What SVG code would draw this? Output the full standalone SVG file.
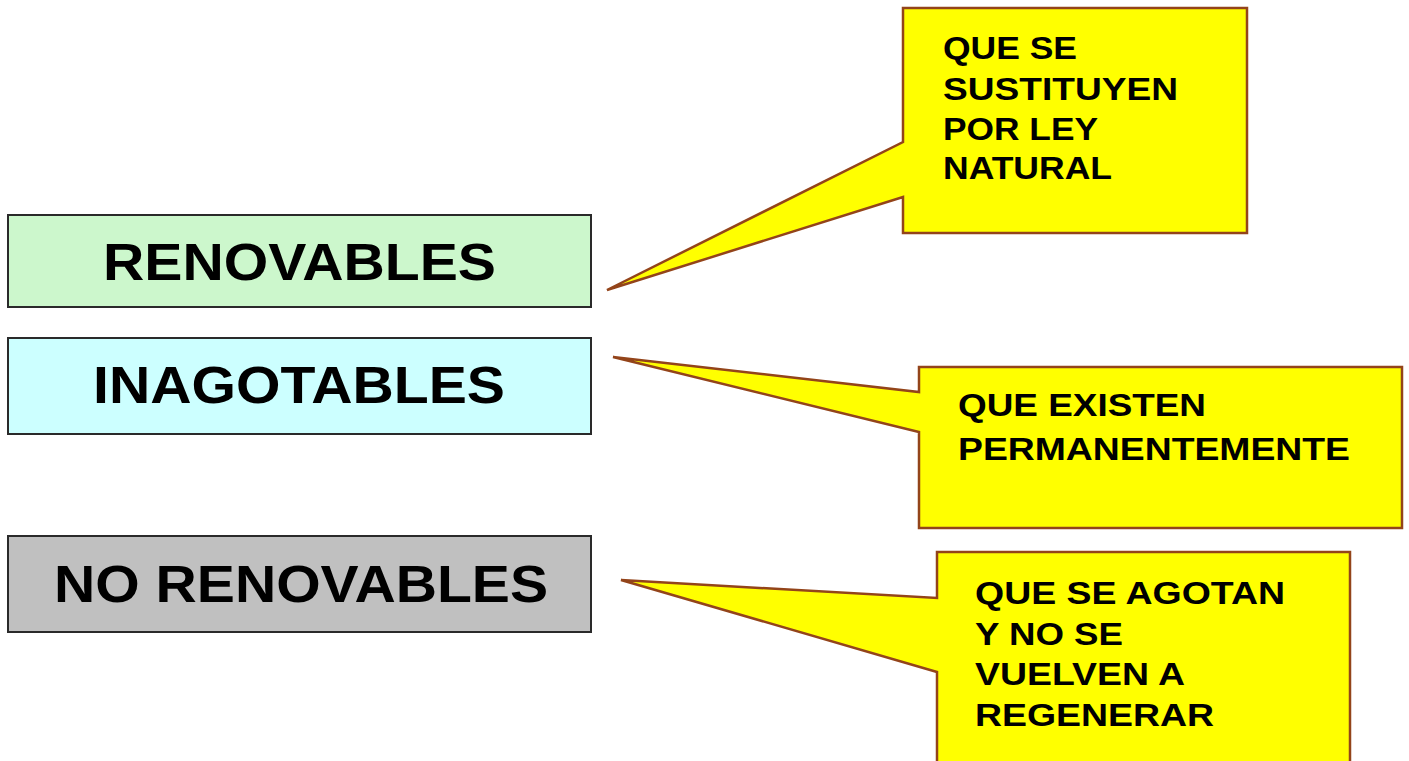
<svg xmlns="http://www.w3.org/2000/svg" width="1409" height="761" viewBox="0 0 1409 761">
<style>
.box{stroke:#2a2a2a;stroke-width:2}
.big{font-family:"Liberation Sans",Arial,sans-serif;font-weight:bold;font-size:52px;fill:#000}
.call{fill:#ffff00;stroke:#93441a;stroke-width:2.5;stroke-linejoin:miter}
.small{font-family:"Liberation Sans",Arial,sans-serif;font-weight:bold;font-size:32px;fill:#000}
</style>
<rect width="1409" height="761" fill="#ffffff"/>
<g id="renovables">
<rect class="box" x="8" y="215" width="583" height="92" fill="#ccf7cc"/>
<text class="big" x="103" y="280" textLength="393" lengthAdjust="spacingAndGlyphs">RENOVABLES</text>
</g>
<g id="inagotables">
<rect class="box" x="8" y="338" width="583" height="96" fill="#ccffff"/>
<text class="big" x="93" y="403" textLength="412" lengthAdjust="spacingAndGlyphs">INAGOTABLES</text>
</g>
<g id="no-renovables">
<rect class="box" x="8" y="536" width="583" height="96" fill="#c0c0c0"/>
<text class="big" x="54" y="602" textLength="494" lengthAdjust="spacingAndGlyphs">NO RENOVABLES</text>
</g>
<g id="connectors">
<path class="call" d="M903,8 H1247 V233 H903 V197 L607,290 L903,142 Z"/>
<path class="call" d="M919,367 H1402 V528 H919 V432 L613,357 L919,392 Z"/>
<path class="call" d="M937,552 H1350 V775 H937 V672 L621,580 L937,598 Z"/>
</g>
<g id="callout-renovables">
<text class="small" x="943" y="59" textLength="134" lengthAdjust="spacingAndGlyphs">QUE SE</text>
<text class="small" x="943" y="100" textLength="235" lengthAdjust="spacingAndGlyphs">SUSTITUYEN</text>
<text class="small" x="943" y="140" textLength="155" lengthAdjust="spacingAndGlyphs">POR LEY</text>
<text class="small" x="943" y="179" textLength="169" lengthAdjust="spacingAndGlyphs">NATURAL</text>
</g>
<g id="callout-inagotables">
<text class="small" x="958" y="416" textLength="248" lengthAdjust="spacingAndGlyphs">QUE EXISTEN</text>
<text class="small" x="958" y="460" textLength="392" lengthAdjust="spacingAndGlyphs">PERMANENTEMENTE</text>
</g>
<g id="callout-no-renovables">
<text class="small" x="975" y="604" textLength="310" lengthAdjust="spacingAndGlyphs">QUE SE AGOTAN</text>
<text class="small" x="975" y="645" textLength="148" lengthAdjust="spacingAndGlyphs">Y NO SE</text>
<text class="small" x="975" y="685" textLength="210" lengthAdjust="spacingAndGlyphs">VUELVEN A</text>
<text class="small" x="975" y="726" textLength="239" lengthAdjust="spacingAndGlyphs">REGENERAR</text>
</g>
</svg>
